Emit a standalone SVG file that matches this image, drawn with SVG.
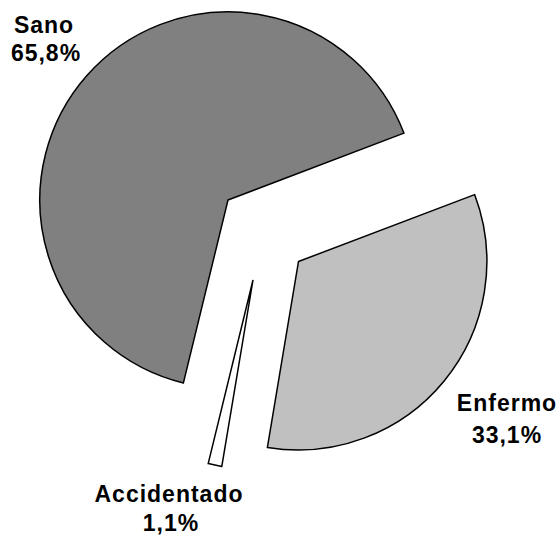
<svg xmlns="http://www.w3.org/2000/svg" width="560" height="536" viewBox="0 0 560 536">
<style>
.slice{stroke:#000;stroke-width:1.5;stroke-linejoin:miter}
.lbl{font-family:"Liberation Sans",Arial,sans-serif;font-weight:bold;font-size:23px;fill:#000;text-anchor:middle;letter-spacing:1px}
</style>
<rect width="560" height="536" fill="#fff"/>
<g id="sano">
<path class="slice" fill="#808080" d="M228,200 L403.9,133.1 A188.2,188.2 0 1 0 183.4,382.9 Z"/>
<text class="lbl" x="44" y="33">Sano</text>
<text class="lbl" x="46" y="61">65,8%</text>
</g>
<g id="enfermo">
<path class="slice" fill="#C0C0C0" d="M298.5,261.5 L474.6,194.6 A188.5,188.5 0 0 1 267.4,447.4 Z"/>
<text class="lbl" x="507" y="410.5">Enfermo</text>
<text class="lbl" x="507" y="443">33,1%</text>
</g>
<g id="accidentado">
<path class="slice" fill="#FFFFFF" d="M253,280 L221.8,466.4 A189,189 0 0 1 208.2,463.6 Z"/>
<text class="lbl" x="169" y="502">Accidentado</text>
<text class="lbl" x="171" y="531">1,1%</text>
</g>
<g id="connectors"></g>
</svg>
